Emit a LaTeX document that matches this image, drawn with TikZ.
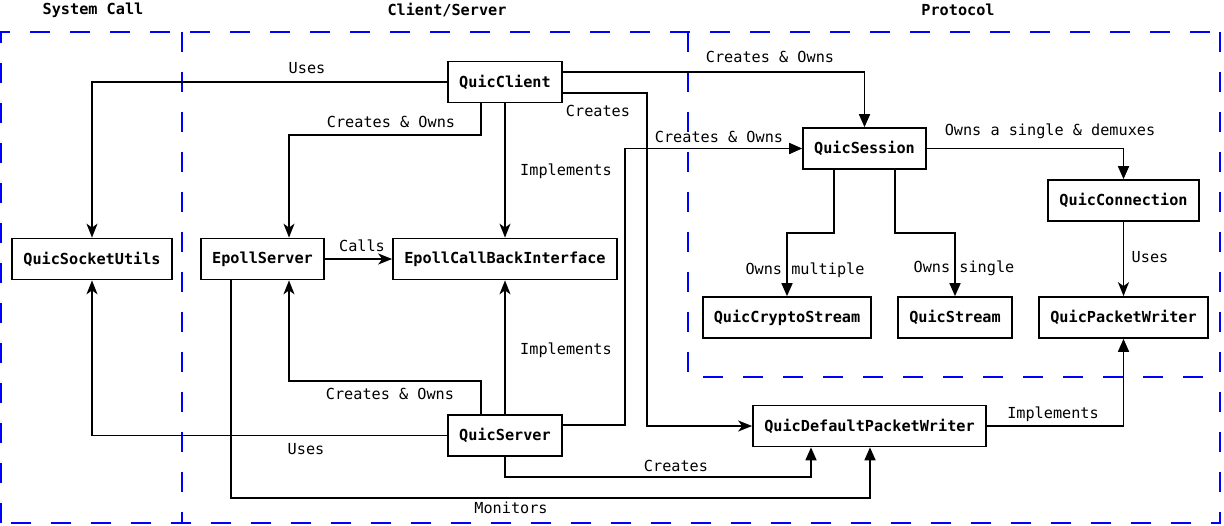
\documentclass[tikz,border=0pt]{standalone}
\usepackage{fontspec}
\setmainfont{DejaVu Sans Mono}
\usetikzlibrary{arrows.meta}
\begin{document}
\begin{tikzpicture}[x=1pt,y=-1pt,
  box/.style={draw,line width=1.7pt,font=\fontsize{15.2}{18}\selectfont\bfseries,inner sep=0pt,minimum height=41pt},
  lbl/.style={font=\fontsize{15.2}{18}\selectfont,inner sep=0pt},
  ttl/.style={font=\fontsize{15.2}{18}\selectfont\bfseries,inner sep=0pt},
  grp/.style={draw=blue,line width=1.7pt,dash pattern=on 20pt off 20pt},
  edge/.style={line width=1.7pt},
  st/.style={edge,-{Stealth[length=14pt,width=11pt,inset=4pt]}},
  tr/.style={edge,-{Triangle[length=13pt,width=11pt]}}]
\useasboundingbox (0,0) rectangle (1224,525);
% groups
\draw[grp] (1,523) -- (1,32) -- (1220,32);
\draw[grp] (182,32) -- (182,523);
\draw[grp] (688,32) -- (688,377) -- (1220,377);
\draw[grp] (1220,32) -- (1220,523) -- (1,523);
\node[ttl] (t1) at (93,10) {System Call};
\node[ttl] (t2) at (447,10) {Client/Server};
\node[ttl] (t3) at (958,10) {Protocol};
% nodes
\node[box,minimum width=114pt] (client) at (505,82) {QuicClient};
\node[box,minimum width=160pt] (sock) at (92,259) {QuicSocketUtils};
\node[box,minimum width=123pt] (epoll) at (262.5,259) {EpollServer};
\node[box,minimum width=224pt] (ecb) at (505,259) {EpollCallBackInterface};
\node[box,minimum width=114pt] (server) at (505,435.5) {QuicServer};
\node[box,minimum width=123pt] (session) at (864.5,148.5) {QuicSession};
\node[box,minimum width=151pt] (conn) at (1123.5,200.5) {QuicConnection};
\node[box,minimum width=168pt] (crypto) at (787,317.5) {QuicCryptoStream};
\node[box,minimum width=114pt] (stream) at (955,317.5) {QuicStream};
\node[box,minimum width=169pt] (pw) at (1123.5,317.5) {QuicPacketWriter};
\node[box,minimum width=233pt] (dpw) at (869.5,426) {QuicDefaultPacketWriter};
% client edges
\draw[st] (client.west) -| (sock.north);
\node[lbl] (l1) at (307,68) {Uses};
\draw[st] (client.south -| 481,0) |- (289,135) -- (epoll.north -| 289,0);
\node[lbl] (l2) at (391,122) {Creates \& Owns};
\draw[st] (client.south) -- (ecb.north);
\node[lbl] (l3) at (566,171) {Implements};
\draw[tr] (client.east |- 0,72) -| (session.north);
\node[lbl] (l4) at (770,57) {Creates \& Owns};
\draw[st] (client.east |- 0,93) -| (647,300) |- (dpw.west);
\node[lbl] (l5) at (598,111) {Creates};
\draw[st] (epoll.east) -- (ecb.west);
\node[lbl] (l6) at (362,246) {Calls};
% server edges
\draw[st] (server.west) -| (sock.south);
\node[lbl] (l7) at (306,449) {Uses};
\draw[st] (server.north -| 481,0) |- (289,381) -- (epoll.south -| 289,0);
\node[lbl] (l8) at (390,394) {Creates \& Owns};
\draw[st] (server.north) -- (ecb.south);
\node[lbl] (l9) at (566,350) {Implements};
\draw[tr] (server.east |- 0,425) -| (625,300) |- (session.west);
\node[lbl] (l10) at (719,137) {Creates \& Owns};
\draw[tr] (server.south) |- (811,477) -- (dpw.south -| 811,0);
\node[lbl] (l11) at (676,466) {Creates};
\draw[tr] (epoll.south -| 231,0) |- (870,498) -- (dpw.south -| 870,0);
\node[lbl] (l12) at (511,508) {Monitors};
% protocol edges
\draw[tr] (session.east) -| (conn.north);
\node[lbl] (l13) at (1050,131) {Owns a single \& demuxes};
\draw[tr] (session.south -| 834,0) |- (787,233) -- (crypto.north);
\node[lbl] (l14) at (805,270) {Owns multiple};
\draw[tr] (session.south -| 895,0) |- (955,233) -- (stream.north);
\node[lbl] (l15) at (964,268) {Owns single};
\draw[st] (conn.south) -- (pw.north);
\node[lbl] (l16) at (1150,257) {Uses};
\draw[tr] (dpw.east) -| (pw.south);
\node[lbl] (l17) at (1053,414) {Implements};
\end{tikzpicture}
\end{document}
